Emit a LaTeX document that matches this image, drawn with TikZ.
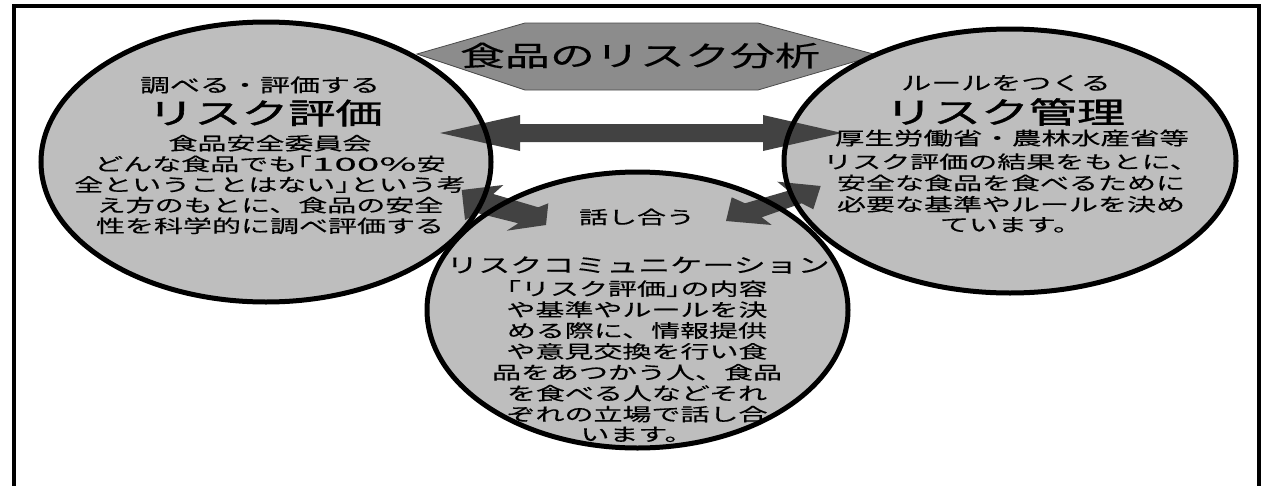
\documentclass[tikz,border=0pt]{standalone}
\usepackage{graphicx}
\usepackage{fontspec}
\setmainfont{Noto Sans CJK JP}[UprightFeatures={FakeBold=0.3}]
\newfontfamily\ttlfont{Noto Sans CJK JP}[FakeBold=1.3]
\definecolor{ellfill}{RGB}{190,190,190}
\definecolor{hexfill}{RGB}{140,140,140}
\definecolor{arrfill}{RGB}{66,66,66}
\newcommand\vsq[1]{\scalebox{1}[0.62]{#1}}
\newcommand\lbr{\makebox[0.5em][r]{「}}
\newcommand\rbr{\makebox[0.5em][l]{」}}
\newcommand\wide[1]{\scalebox{1.4}[1]{#1}}
\begin{document}
\begin{tikzpicture}[x=1pt,y=-1pt,
  txt/.style={inner sep=0pt, text=black},
  ellout/.style={draw=black, line width=5pt},
  blockarrow/.style={fill=arrfill}]
\useasboundingbox (0,0) rectangle (1267,485);
\fill[white] (0,0) rectangle (1267,485);
% frame
\draw[line width=4pt] (13.5,500) -- (13.5,6) -- (1259,6) -- (1259,500);
% centres
\coordinate (Lc) at (266,162);
\coordinate (Rc) at (1010,161);
\coordinate (Cc) at (637.5,310);
% fills
\fill[ellfill] (Lc) ellipse [x radius=225pt, y radius=140pt];
\fill[ellfill] (Rc) ellipse [x radius=226pt, y radius=132pt];
\fill[ellfill] (Cc) ellipse [x radius=210.5pt, y radius=138pt];
% title hexagon
\filldraw[fill=hexfill, draw=black!70, line width=0.8pt]
  (417,54) -- (525,23) -- (758,23) -- (877,55) -- (758,90) -- (525,90) -- cycle;
% arrows
\fill[blockarrow] (440,133) -- (520,115) -- (520,124) -- (763,124) -- (763,115) -- (842,133)
  -- (763,151) -- (763,142) -- (520,142) -- (520,151) -- cycle;
\fill[blockarrow] (461.7,190) -- (503.3,185) -- (493.3,194) -- (538.3,207.3) -- (548.3,203.3)
  -- (546,225) -- (506.7,230.7) -- (518.3,223.3) -- (478.3,213.3) -- (465,220) -- cycle;
\fill[blockarrow] (731.7,197.3) -- (726,221) -- (771.7,225) -- (761.7,217.3) -- (801.7,203.3)
  -- (813.3,209.3) -- (820.7,186) -- (777.3,181.7) -- (788.3,190.7) -- (745,203.3) -- cycle;
% outlines
\draw[ellout] (Lc) ellipse [x radius=225pt, y radius=140pt];
\draw[ellout] (Rc) ellipse [x radius=226pt, y radius=132pt];
\draw[ellout] (Cc) ellipse [x radius=210.5pt, y radius=138pt];
% title
\node[txt, font=\fontsize{45}{48}\selectfont] (T) at (640,55.5) {\vsq{食品のリスク分析}};
% left
\node[txt, font=\fontsize{30}{32}\selectfont] (lhead) at (260,85) {\vsq{調べる・評価する}};
\node[txt, font=\ttlfont\fontsize{47}{50}\selectfont] (ltitle) at (265,113) {\vsq{リスク評価}};
\node[txt, font=\fontsize{29}{29.4}\selectfont] (lbody) at (270,186.5) {\vsq{\begin{tabular}{@{}c@{}}食品安全委員会\\どんな食品でも\lbr\wide{100\%}安\\全ということはない\rbr という考\\え方のもとに、食品の安全\\性を科学的に調べ評価する\end{tabular}}};
% right
\node[txt, font=\fontsize{30}{32}\selectfont] (rhead) at (1006,83) {\vsq{ルールをつくる}};
\node[txt, font=\ttlfont\fontsize{48}{50}\selectfont] (rtitle) at (1005,112) {\vsq{リスク管理}};
\node[txt, font=\fontsize{29.5}{31}\selectfont] (rorg) at (1012,138) {\vsq{厚生労働省・農林水産省等}};
\node[txt, font=\fontsize{29}{32.8}\selectfont] (rbody) at (1011,195.5) {\vsq{\begin{tabular}{@{}c@{}}リスク評価の結果をもとに、\\安全な食品を食べるために\\必要な基準やルールを決め\\ています。\end{tabular}}};
% centre
\node[txt, font=\fontsize{29}{30}\selectfont] (ctalk) at (637,217) {\vsq{話し合う}};
\node[txt, font=\fontsize{32}{34}\selectfont] (ctitle) at (638,265) {\vsq{リスクコミュニケーション}};
\node[txt, font=\fontsize{29}{31.1}\selectfont] (cbody) at (637,363.5) {\vsq{\begin{tabular}{@{}c@{}}\lbr リスク評価\rbr の内容\\や基準やルールを決\\める際に、情報提供\\や意見交換を行い食\\品をあつかう人、食品\\を食べる人などそれ\\ぞれの立場で話し合\\います。\end{tabular}}};
\end{tikzpicture}
\end{document}
